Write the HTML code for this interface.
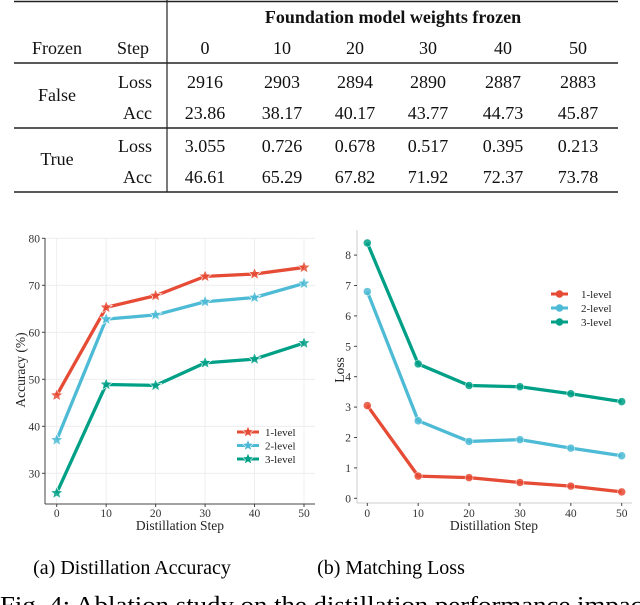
<!DOCTYPE html>
<html><head><meta charset="utf-8"><style>
body{margin:0;background:#fff;width:640px;height:605px;overflow:hidden;position:relative;font-family:"Liberation Serif",serif;color:#111}
</style></head><body>
<svg width="640" height="605" style="position:absolute;left:0;top:0" font-family="Liberation Serif, serif">
<g font-size="18" fill="#111" text-anchor="middle">
<line x1="14" y1="1.5" x2="618" y2="1.5" stroke="#222" stroke-width="1.5"/>
<line x1="14" y1="63" x2="618" y2="63" stroke="#222" stroke-width="1.5"/>
<line x1="14" y1="128" x2="618" y2="128" stroke="#222" stroke-width="1.5"/>
<line x1="14" y1="192" x2="618" y2="192" stroke="#222" stroke-width="1.5"/>
<line x1="167" y1="0" x2="167" y2="192" stroke="#222" stroke-width="1.2"/>
<text x="393" y="23" font-weight="bold">Foundation model weights frozen</text>
<text x="57" y="54">Frozen</text>
<text x="133" y="54">Step</text>
<g id="hdr"></g>
<text x="57" y="101">False</text>
<text x="57" y="165">True</text>
<text x="152" y="88" text-anchor="end">Loss</text>
<text x="152" y="119" text-anchor="end">Acc</text>
<text x="152" y="152" text-anchor="end">Loss</text>
<text x="152" y="183" text-anchor="end">Acc</text>
<g id="cells"></g>
</g>
<g id="left"></g>
<g id="right"></g>
<text x="132" y="574" font-size="20" text-anchor="middle">(a) Distillation Accuracy</text>
<text x="391" y="574" font-size="20" text-anchor="middle">(b) Matching Loss</text>
<text x="0" y="613" font-size="24" textLength="650" lengthAdjust="spacingAndGlyphs">Fig. 4: Ablation study on the distillation performance impact</text>
</svg>
<script>
const steps=[0,10,20,30,40,50];
const tblRows=[["2916","2903","2894","2890","2887","2883"],["23.86","38.17","40.17","43.77","44.73","45.87"],["3.055","0.726","0.678","0.517","0.395","0.213"],["46.61","65.29","67.82","71.92","72.37","73.78"]];
const accL1=[46.6,65.3,67.8,71.9,72.4,73.8];
const accL2=[37.1,62.8,63.7,66.5,67.4,70.4];
const accL3=[25.8,48.9,48.7,53.5,54.3,57.7];
const lossL1=[3.05,0.73,0.68,0.52,0.40,0.21];
const lossL2=[6.8,2.55,1.87,1.93,1.65,1.40];
const lossL3=[8.4,4.42,3.71,3.67,3.44,3.18];
const accTicks=[30,40,50,60,70,80];
const lossTicks=[0,1,2,3,4,5,6,7,8];
const seriesNames=["1-level","2-level","3-level"];
const colors=["#e64b35","#4dbbd5","#00a087"];
const NS="http://www.w3.org/2000/svg";
function mk(p,tag,a,txt){const e=document.createElementNS(NS,tag);for(const k in a)e.setAttribute(k,a[k]);if(txt!==undefined)e.textContent=txt;p.appendChild(e);return e;}
const colX=[205,282,355,428,503,578];
const hdr=document.getElementById('hdr'),cells=document.getElementById('cells');
steps.forEach((s,i)=>{const e=mk(hdr,'text',{x:colX[i],y:54},s);

});
const rowY=[88,119,152,183];
tblRows.forEach((r,j)=>r.forEach((v,i)=>{const e=mk(cells,'text',{x:colX[i],y:rowY[j]},v);

}));
function star(cx,cy,r){let p=[];for(let k=0;k<10;k++){const a=-Math.PI/2+k*Math.PI/5,rr=k%2?r*0.45:r;p.push((cx+rr*Math.cos(a)).toFixed(1)+','+(cy+rr*Math.sin(a)).toFixed(1));}return p.join(' ');}
(function(){
const g=document.getElementById('left');
const x=v=>56.7+(v/50)*(304-56.7), y=v=>473.3-(v-30)*4.7;
steps.forEach(s=>mk(g,'line',{x1:x(s),y1:238,x2:x(s),y2:504,stroke:'#ebebeb','stroke-width':0.8}));
accTicks.forEach(t=>mk(g,'line',{x1:45,y1:y(t),x2:315,y2:y(t),stroke:'#ebebeb','stroke-width':0.8}));
mk(g,'line',{x1:45,y1:238,x2:45,y2:504,stroke:'#444','stroke-width':1});
mk(g,'line',{x1:45,y1:504,x2:315,y2:504,stroke:'#444','stroke-width':1});
accTicks.forEach(t=>{mk(g,'line',{x1:42,y1:y(t),x2:45,y2:y(t),stroke:'#444'});const e=mk(g,'text',{x:40,y:y(t)+4,'font-size':11.5,'text-anchor':'end',fill:'#333'},t);

});
steps.forEach(s=>{mk(g,'line',{x1:x(s),y1:504,x2:x(s),y2:507,stroke:'#444'});const e=mk(g,'text',{x:x(s),y:517,'font-size':11.5,'text-anchor':'middle',fill:'#333'},s);

});
let e=mk(g,'text',{x:180,y:530,'font-size':13.5,'text-anchor':'middle',fill:'#222'},'Distillation Step');


e=mk(g,'text',{x:0,y:0,'font-size':13.5,'text-anchor':'middle',fill:'#222',transform:'translate(25,370) rotate(-90)'},'Accuracy (%)');


[accL1,accL2,accL3].forEach((d,i)=>{
const l=mk(g,'polyline',{points:d.map((v,k)=>x(steps[k])+','+y(v)).join(' '),fill:'none',stroke:colors[i],'stroke-width':3.3,'stroke-linejoin':'round'});


d.forEach((v,k)=>{const m=mk(g,'polygon',{points:star(x(steps[k]),y(v),6.5),fill:colors[i],stroke:'#fff','stroke-width':0.6,'fill-opacity':0.85});

});
const ly=432+i*13.5;
mk(g,'line',{x1:237,y1:ly,x2:259,y2:ly,stroke:colors[i],'stroke-width':3});
mk(g,'polygon',{points:star(248,ly,6),fill:colors[i],stroke:'#fff','stroke-width':0.6});
const t=mk(g,'text',{x:265,y:ly+4,'font-size':11,fill:'#222'},seriesNames[i]);


});
})();
(function(){
const g=document.getElementById('right');
const x=v=>367.3+(v/50)*(621.7-367.3), y=v=>498.3-v*30.4;
mk(g,'line',{x1:357,y1:230,x2:357,y2:503,stroke:'#ccc','stroke-width':1});
mk(g,'line',{x1:357,y1:503,x2:632,y2:503,stroke:'#ccc','stroke-width':1});
lossTicks.forEach(t=>{mk(g,'line',{x1:354,y1:y(t),x2:357,y2:y(t),stroke:'#444'});const e=mk(g,'text',{x:351,y:y(t)+4,'font-size':11.5,'text-anchor':'end',fill:'#333'},t);

});
steps.forEach(s=>{mk(g,'line',{x1:x(s),y1:503,x2:x(s),y2:506,stroke:'#444'});const e=mk(g,'text',{x:x(s),y:517,'font-size':11.5,'text-anchor':'middle',fill:'#333'},s);

});
let e=mk(g,'text',{x:494,y:530,'font-size':13.5,'text-anchor':'middle',fill:'#222'},'Distillation Step');


e=mk(g,'text',{x:0,y:0,'font-size':13.5,'text-anchor':'middle',fill:'#222',transform:'translate(344,370) rotate(-90)'},'Loss');


[lossL1,lossL2,lossL3].forEach((d,i)=>{
const l=mk(g,'polyline',{points:d.map((v,k)=>x(steps[k])+','+y(v)).join(' '),fill:'none',stroke:colors[i],'stroke-width':3.3,'stroke-linejoin':'round'});


d.forEach((v,k)=>{const m=mk(g,'circle',{cx:x(steps[k]),cy:y(v),r:4,fill:colors[i],stroke:'#fff','stroke-width':0.5,'fill-opacity':0.85});

});
const ly=294+i*14;
mk(g,'line',{x1:551,y1:ly,x2:568,y2:ly,stroke:colors[i],'stroke-width':3});
mk(g,'circle',{cx:559.5,cy:ly,r:3.8,fill:colors[i]});
const t=mk(g,'text',{x:581,y:ly+4,'font-size':11,fill:'#222'},seriesNames[i]);


});
})();
</script>
</body></html>
